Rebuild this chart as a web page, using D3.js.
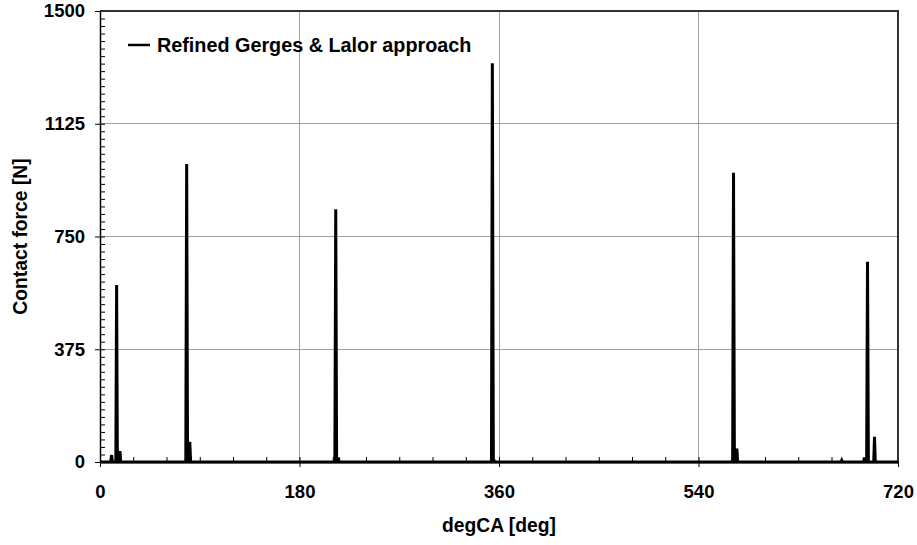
<!DOCTYPE html>
<html>
<head>
<meta charset="utf-8">
<script src="https://cdn.jsdelivr.net/npm/d3@7"></script>
<style>
  body { margin: 0; background: #fff; }
  text { font-family: "Liberation Sans", Arial, sans-serif; font-weight: bold; }
</style>
</head>
<body>
<svg id="chart" width="917" height="545"></svg>
<script>
// crank angle [deg] and contact force [N]
const angles = [0, 9.5, 10.5, 11.2, 14.3, 15.0, 15.7, 17.4, 18.0, 18.7,
  77.4, 78.2, 79.0, 80.3, 81.0, 81.8,
  211.9, 212.7, 213.5, 214.5, 215.0, 215.6,
  353.2, 354.0, 354.9, 355.4, 355.9,
  570.8, 571.6, 572.4, 573.9, 574.6, 575.3,
  668.5, 669.2, 669.9,
  689.0, 689.6, 690.2, 691.7, 692.5, 693.3, 698.1, 698.8, 699.5, 720];
const forces = [0, 0, 23, 0, 0, 589, 0, 0, 36, 0,
  0, 991, 0, 0, 67, 0,
  0, 841, 0, 0, 15, 0,
  0, 1326, 0, 8, 0,
  0, 962, 0, 0, 45, 0,
  0, 6, 0,
  0, 15, 0, 0, 666, 0, 0, 84, 0, 0];
const xTicks = [0, 180, 360, 540, 720];
const yTicks = [0, 375, 750, 1125, 1500];
const seriesName = "Refined Gerges & Lalor approach";

const data = angles.map((a, i) => ({ a: a, f: forces[i] }));

const svg = d3.select("#chart");
const margin = { top: 11, right: 20, bottom: 83, left: 100 };
const W = 917, H = 545;
const FS = "18.5px";

const x = d3.scaleLinear().domain([0, 720]).range([margin.left, W - margin.right + 1]);
const y = d3.scaleLinear().domain([0, 1500]).range([H - margin.bottom, margin.top]);

// grid
svg.append("g")
  .selectAll("line.vg")
  .data(xTicks.slice(1, -1))
  .join("line")
  .attr("x1", d => x(d)).attr("x2", d => x(d))
  .attr("y1", y(0)).attr("y2", y(1500))
  .attr("stroke", "#a0a0a0").attr("stroke-width", 1)
  .style("shape-rendering", "crispEdges");
svg.append("g")
  .selectAll("line.hg")
  .data(yTicks.slice(1, -1))
  .join("line")
  .attr("x1", x(0)).attr("x2", x(720))
  .attr("y1", d => y(d)).attr("y2", d => y(d))
  .attr("stroke", "#a0a0a0").attr("stroke-width", 1)
  .style("shape-rendering", "crispEdges");

// plot border (top & right)
svg.append("path")
  .attr("d", `M${x(0)},${y(1500)}H${x(720)}V${y(0)}`)
  .attr("fill", "none").attr("stroke", "#333").attr("stroke-width", 1.5)
  .style("shape-rendering", "crispEdges");

// minor ticks, inside
svg.append("g")
  .attr("transform", `translate(0,${y(0)})`)
  .call(d3.axisBottom(x).tickValues(d3.range(30, 720, 30)).tickSize(-5).tickFormat(""))
  .call(g => g.select(".domain").remove())
  .call(g => g.selectAll("line").attr("stroke", "#000"));
svg.append("g")
  .attr("transform", `translate(${x(0)},0)`)
  .call(d3.axisLeft(y).tickValues(d3.range(25, 1500, 25)).tickSize(-5).tickFormat(""))
  .call(g => g.select(".domain").remove())
  .call(g => g.selectAll("line").attr("stroke", "#000"));

// major axes
const xAxis = svg.append("g")
  .attr("transform", `translate(0,${y(0)})`)
  .call(d3.axisBottom(x).tickValues(xTicks).tickFormat(d3.format("d"))
    .tickSize(5).tickSizeOuter(0).tickPadding(18));
const yAxis = svg.append("g")
  .attr("transform", `translate(${x(0)},0)`)
  .call(d3.axisLeft(y).tickValues(yTicks).tickFormat(d3.format("d"))
    .tickSize(5).tickSizeOuter(0).tickPadding(10));
[xAxis, yAxis].forEach(g => {
  g.select(".domain").attr("stroke", "#000").attr("stroke-width", 1.5);
  g.selectAll(".tick line").attr("stroke", "#000");
  g.selectAll(".tick text")
    .attr("fill", "#000")
    .style("font-size", FS)
    .style("font-family", "'Liberation Sans', Arial, sans-serif")
    .style("font-weight", "bold");
});

// the series
const line = d3.line().x(d => x(d.a)).y(d => y(d.f));
svg.append("path")
  .datum(data)
  .attr("d", line)
  .attr("fill", "none")
  .attr("stroke", "#000")
  .attr("stroke-width", 3)
  .attr("stroke-linejoin", "miter");

// axis titles
svg.append("text")
  .attr("x", (x(0) + x(720)) / 2).attr("y", 532)
  .attr("text-anchor", "middle")
  .style("font-size", "19.3px")
  .text("degCA [deg]");
svg.append("text")
  .attr("transform", `translate(27,${(y(0) + y(1500)) / 2}) rotate(-90)`)
  .attr("text-anchor", "middle")
  .style("font-size", "19.3px")
  .text("Contact force [N]");

// legend
svg.append("line")
  .attr("x1", 128).attr("x2", 150).attr("y1", 45).attr("y2", 45)
  .attr("stroke", "#000").attr("stroke-width", 2.5);
svg.append("text")
  .attr("x", 157).attr("y", 45).attr("dy", "0.35em")
  .style("font-size", "19.8px")
  .text(seriesName);
</script>
</body>
</html>
